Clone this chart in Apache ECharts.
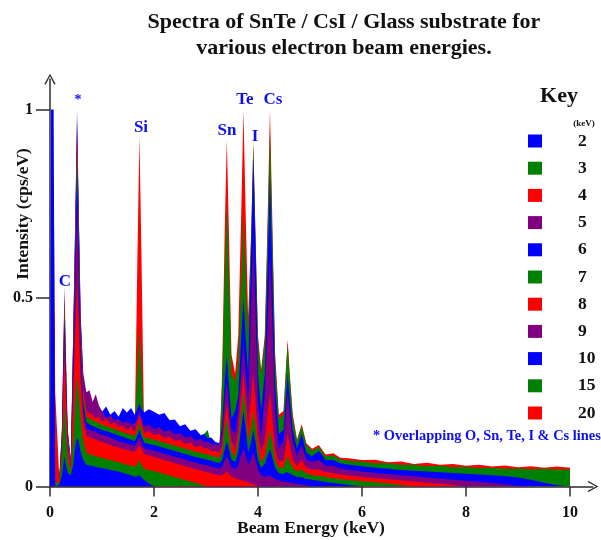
<!DOCTYPE html>
<html><head><meta charset="utf-8">
<script src="https://cdn.jsdelivr.net/npm/echarts@6/dist/echarts.min.js"></script>
<style>html,body{margin:0;padding:0;background:#fff}#c{width:601px;height:540px}</style>
</head><body><div id="c"></div>
<script>
// Energy grid (keV)
const energy = [
0, 0.02, 0.04, 0.07, 0.10, 0.18, 0.23, 0.26, 0.28, 0.30,
0.34, 0.40, 0.45, 0.49, 0.52, 0.55, 0.59, 0.64, 0.70, 0.76,
0.82, 0.88, 0.94, 1.00, 1.08, 1.16, 1.24, 1.32, 1.40, 1.48,
1.56, 1.63, 1.68, 1.72, 1.76, 1.81, 1.90, 2.00, 2.10, 2.20,
2.30, 2.40, 2.50, 2.60, 2.70, 2.80, 2.90, 2.97, 3.03, 3.10,
3.18, 3.26, 3.31, 3.36, 3.40, 3.44, 3.49, 3.56, 3.62, 3.68,
3.72, 3.76, 3.81, 3.87, 3.91, 3.95, 4.00, 4.06, 4.13, 4.19,
4.23, 4.27, 4.33, 4.40, 4.49, 4.54, 4.57, 4.61, 4.67, 4.75,
4.84, 4.93, 5.04, 5.17, 5.30, 5.45, 5.58, 5.75, 6.00, 6.25,
6.50, 6.75, 7.00, 7.25, 7.50, 7.75, 8.00, 8.25, 8.50, 8.75,
9.00, 9.25, 9.50, 9.75, 10.00];

// Intensity (cps/eV) for each beam energy
const s2 = [
0, 1.0, 1.0, 1.0, 0.0, 0.005, 0.03, 0.06, 0.08, 0.06,
0.035, 0.03, 0.06, 0.11, 0.13, 0.12, 0.09, 0.07, 0.058, 0.056,
0.055, 0.052, 0.05, 0.049, 0.047, 0.044, 0.042, 0.04, 0.036, 0.033,
0.03, 0.026, 0.027, 0.03, 0.024, 0.018, 0.008, 0, 0, 0,
0, 0, 0, 0, 0, 0, 0, 0, 0, 0,
0, 0, 0, 0, 0, 0, 0, 0, 0, 0,
0, 0, 0, 0, 0, 0, 0, 0, 0, 0,
0, 0, 0, 0, 0, 0, 0, 0, 0, 0,
0, 0, 0, 0, 0, 0, 0, 0, 0, 0,
0, 0, 0, 0, 0, 0, 0, 0, 0, 0,
0, 0, 0, 0, 0];
const s3 = [
0, 0, 0.4, 0.5, 0.01, 0.01, 0.08, 0.17, 0.22, 0.17,
0.07, 0.04, 0.13, 0.24, 0.29, 0.25, 0.18, 0.12, 0.09, 0.085,
0.083, 0.08, 0.078, 0.076, 0.073, 0.07, 0.067, 0.064, 0.061, 0.058,
0.055, 0.052, 0.06, 0.07, 0.058, 0.047, 0.044, 0.041, 0.037, 0.033,
0.029, 0.025, 0.021, 0.017, 0.013, 0.009, 0.005, 0.002, 0, 0,
0, 0, 0, 0, 0, 0, 0, 0, 0, 0,
0, 0, 0, 0, 0, 0, 0, 0, 0, 0,
0, 0, 0, 0, 0, 0, 0, 0, 0, 0,
0, 0, 0, 0, 0, 0, 0, 0, 0, 0,
0, 0, 0, 0, 0, 0, 0, 0, 0, 0,
0, 0, 0, 0, 0];
const s4 = [
0, 0, 0.45, 0.6, 0.1, 0.015, 0.1, 0.27, 0.35, 0.26,
0.1, 0.05, 0.25, 0.42, 0.55, 0.44, 0.27, 0.17, 0.135, 0.13,
0.128, 0.125, 0.12, 0.118, 0.114, 0.11, 0.106, 0.103, 0.1, 0.097,
0.094, 0.09, 0.1, 0.11, 0.1, 0.086, 0.082, 0.078, 0.074, 0.07,
0.066, 0.062, 0.058, 0.054, 0.05, 0.046, 0.042, 0.04, 0.038, 0.035,
0.032, 0.029, 0.03, 0.036, 0.04, 0.034, 0.026, 0.022, 0.019, 0.017,
0.015, 0.013, 0.011, 0.008, 0.006, 0.004, 0.002, 0, 0, 0,
0, 0, 0, 0, 0, 0, 0, 0, 0, 0,
0, 0, 0, 0, 0, 0, 0, 0, 0, 0,
0, 0, 0, 0, 0, 0, 0, 0, 0, 0,
0, 0, 0, 0, 0];
const s5 = [
0, 0, 0.5, 0.6, 0.01, 0.02, 0.12, 0.32, 0.42, 0.31,
0.12, 0.05, 0.32, 0.57, 0.75, 0.58, 0.34, 0.2, 0.155, 0.15,
0.148, 0.145, 0.14, 0.138, 0.134, 0.13, 0.125, 0.12, 0.117, 0.114,
0.11, 0.107, 0.12, 0.13, 0.118, 0.101, 0.098, 0.095, 0.091, 0.087,
0.083, 0.079, 0.075, 0.071, 0.067, 0.063, 0.06, 0.058, 0.056, 0.053,
0.05, 0.047, 0.052, 0.07, 0.08, 0.068, 0.05, 0.045, 0.055, 0.085,
0.1, 0.085, 0.055, 0.075, 0.09, 0.072, 0.045, 0.03, 0.026, 0.028,
0.03, 0.025, 0.02, 0.016, 0.013, 0.012, 0.011, 0.01, 0.009, 0.007,
0.005, 0.003, 0, 0, 0, 0, 0, 0, 0, 0,
0, 0, 0, 0, 0, 0, 0, 0, 0, 0,
0, 0, 0, 0, 0];
const s6 = [
0, 0, 0.5, 0.6, 0.012, 0.02, 0.13, 0.34, 0.45, 0.33,
0.12, 0.05, 0.36, 0.64, 0.85, 0.65, 0.38, 0.22, 0.17, 0.165,
0.16, 0.157, 0.153, 0.15, 0.147, 0.143, 0.139, 0.135, 0.131, 0.127,
0.124, 0.12, 0.135, 0.15, 0.133, 0.116, 0.113, 0.11, 0.106, 0.102,
0.098, 0.094, 0.09, 0.086, 0.082, 0.078, 0.075, 0.073, 0.071, 0.068,
0.065, 0.062, 0.07, 0.1, 0.12, 0.1, 0.07, 0.065, 0.09, 0.16,
0.2, 0.16, 0.09, 0.12, 0.15, 0.12, 0.07, 0.05, 0.06, 0.085,
0.1, 0.08, 0.05, 0.035, 0.033, 0.038, 0.04, 0.035, 0.03, 0.025,
0.025, 0.02, 0.018, 0.015, 0.012, 0.009, 0.007, 0.004, 0, 0,
0, 0, 0, 0, 0, 0, 0, 0, 0, 0,
0, 0, 0, 0, 0];
const s7 = [
0, 0, 0.5, 0.6, 0.012, 0.02, 0.14, 0.36, 0.48, 0.35,
0.13, 0.06, 0.39, 0.68, 0.9, 0.69, 0.4, 0.24, 0.185, 0.18,
0.176, 0.172, 0.168, 0.164, 0.16, 0.156, 0.152, 0.148, 0.144, 0.14,
0.137, 0.134, 0.15, 0.17, 0.148, 0.13, 0.127, 0.124, 0.12, 0.116,
0.112, 0.108, 0.104, 0.1, 0.096, 0.092, 0.089, 0.087, 0.085, 0.082,
0.079, 0.076, 0.09, 0.15, 0.18, 0.14, 0.09, 0.08, 0.12, 0.2,
0.25, 0.2, 0.12, 0.16, 0.2, 0.16, 0.1, 0.065, 0.08, 0.12,
0.15, 0.12, 0.07, 0.05, 0.05, 0.07, 0.08, 0.065, 0.05, 0.04,
0.045, 0.035, 0.03, 0.028, 0.025, 0.022, 0.02, 0.017, 0.014, 0.011,
0.008, 0.004, 0, 0, 0, 0, 0, 0, 0, 0,
0, 0, 0, 0, 0];
const s8 = [
0, 0, 0.5, 0.85, 0.25, 0.02, 0.15, 0.38, 0.5, 0.37,
0.14, 0.06, 0.41, 0.71, 0.94, 0.72, 0.42, 0.26, 0.2, 0.195,
0.19, 0.18, 0.186, 0.172, 0.18, 0.165, 0.17, 0.158, 0.162, 0.15,
0.156, 0.145, 0.17, 0.19, 0.168, 0.142, 0.147, 0.136, 0.14, 0.128,
0.132, 0.12, 0.124, 0.112, 0.116, 0.104, 0.108, 0.1, 0.102, 0.094,
0.094, 0.091, 0.11, 0.18, 0.22, 0.17, 0.12, 0.1, 0.15, 0.25,
0.3, 0.24, 0.16, 0.24, 0.3, 0.23, 0.14, 0.09, 0.12, 0.2,
0.25, 0.19, 0.1, 0.065, 0.07, 0.11, 0.14, 0.11, 0.07, 0.055,
0.07, 0.05, 0.045, 0.045, 0.038, 0.036, 0.032, 0.029, 0.025, 0.022,
0.019, 0.016, 0.013, 0.01, 0.007, 0.004, 0, 0, 0, 0,
0, 0, 0, 0, 0];
const s9 = [
0, 0, 0.5, 0.6, 0.012, 0.025, 0.16, 0.4, 0.53, 0.39,
0.15, 0.07, 0.43, 0.73, 0.97, 0.74, 0.44, 0.3, 0.25, 0.255,
0.225, 0.245, 0.215, 0.2, 0.182, 0.188, 0.175, 0.18, 0.168, 0.174,
0.165, 0.168, 0.18, 0.2, 0.178, 0.158, 0.165, 0.152, 0.158, 0.146,
0.15, 0.138, 0.142, 0.13, 0.134, 0.122, 0.126, 0.118, 0.12, 0.112,
0.112, 0.109, 0.14, 0.23, 0.28, 0.22, 0.15, 0.14, 0.2, 0.31,
0.38, 0.31, 0.22, 0.48, 0.646, 0.48, 0.22, 0.13, 0.24, 0.46,
0.62, 0.46, 0.2, 0.1, 0.12, 0.2, 0.25, 0.19, 0.12, 0.08,
0.11, 0.07, 0.065, 0.07, 0.055, 0.055, 0.048, 0.044, 0.04, 0.036,
0.033, 0.03, 0.027, 0.024, 0.021, 0.018, 0.015, 0.012, 0.009, 0.005,
0.002, 0, 0, 0, 0];
const s10 = [
0, 0, 0.45, 0.6, 0.012, 0.025, 0.14, 0.3, 0.4, 0.3,
0.15, 0.07, 0.44, 0.75, 1.0, 0.76, 0.46, 0.29, 0.235, 0.24,
0.21, 0.235, 0.205, 0.198, 0.212, 0.19, 0.2, 0.185, 0.208, 0.196,
0.208, 0.19, 0.205, 0.22, 0.205, 0.196, 0.205, 0.198, 0.19, 0.195,
0.176, 0.178, 0.16, 0.165, 0.148, 0.152, 0.136, 0.14, 0.128, 0.13,
0.118, 0.115, 0.16, 0.28, 0.35, 0.27, 0.18, 0.2, 0.24, 0.4,
0.5, 0.4, 0.3, 0.64, 0.875, 0.64, 0.3, 0.2, 0.3, 0.6,
0.826, 0.6, 0.27, 0.14, 0.15, 0.24, 0.3, 0.23, 0.15, 0.1,
0.14, 0.09, 0.08, 0.095, 0.07, 0.07, 0.062, 0.058, 0.054, 0.05,
0.047, 0.044, 0.042, 0.04, 0.038, 0.036, 0.034, 0.032, 0.03, 0.027,
0.024, 0.018, 0.01, 0.003, 0];
const s15 = [
0, 0, 0.4, 0.6, 0.01, 0.02, 0.1, 0.26, 0.35, 0.26,
0.12, 0.06, 0.35, 0.6, 0.8, 0.62, 0.38, 0.24, 0.2, 0.19,
0.18, 0.175, 0.17, 0.165, 0.16, 0.16, 0.158, 0.157, 0.156, 0.155,
0.155, 0.155, 0.3, 0.42, 0.3, 0.155, 0.154, 0.153, 0.15, 0.147,
0.143, 0.14, 0.135, 0.13, 0.126, 0.122, 0.118, 0.14, 0.15, 0.115,
0.11, 0.108, 0.27, 0.56, 0.755, 0.56, 0.3, 0.28, 0.33, 0.55,
0.73, 0.56, 0.4, 0.67, 0.906, 0.67, 0.38, 0.3, 0.38, 0.7,
0.945, 0.7, 0.33, 0.18, 0.19, 0.31, 0.38, 0.29, 0.18, 0.12,
0.16, 0.11, 0.095, 0.105, 0.08, 0.082, 0.072, 0.068, 0.066, 0.062,
0.062, 0.058, 0.058, 0.054, 0.055, 0.051, 0.052, 0.049, 0.05, 0.047,
0.048, 0.046, 0.047, 0.045, 0.045];
const s20 = [
0, 0, 0.35, 0.6, 0.01, 0.02, 0.08, 0.22, 0.3, 0.22,
0.1, 0.05, 0.3, 0.52, 0.7, 0.54, 0.34, 0.22, 0.18, 0.17,
0.165, 0.16, 0.155, 0.15, 0.148, 0.146, 0.145, 0.144, 0.143, 0.142,
0.142, 0.142, 0.6, 0.93, 0.6, 0.142, 0.141, 0.14, 0.138, 0.135,
0.132, 0.128, 0.124, 0.12, 0.117, 0.113, 0.11, 0.108, 0.106, 0.104,
0.102, 0.1, 0.3, 0.68, 0.92, 0.68, 0.35, 0.3, 0.4, 0.74,
1.0, 0.74, 0.45, 0.68, 0.915, 0.68, 0.4, 0.31, 0.4, 0.74,
1.0, 0.74, 0.35, 0.19, 0.2, 0.32, 0.39, 0.3, 0.19, 0.125,
0.165, 0.115, 0.1, 0.11, 0.085, 0.088, 0.076, 0.075, 0.07, 0.071,
0.064, 0.066, 0.06, 0.063, 0.058, 0.06, 0.055, 0.058, 0.053, 0.056,
0.051, 0.054, 0.05, 0.053, 0.05];

const beamEnergies = ['2', '3', '4', '5', '6', '7', '8', '9', '10', '15', '20'];
const seriesValues = [s2, s3, s4, s5, s6, s7, s8, s9, s10, s15, s20];
const xTicks = [0, 2, 4, 6, 8, 10];
const yTicks = [0, 0.5, 1];
const peakNames = ['*', 'Si', 'Sn', 'Te', 'I', 'Cs', 'C'];

const palette = ['#0000FF', '#008000', '#FF0000', '#800080'];
const FONT = "'Liberation Serif', 'Times New Roman', serif";
const AXIS = '#2b2b2b';

const chart = echarts.init(document.getElementById('c'), null, {renderer: 'canvas'});

// highest beam energy at the back, 2 keV in front
const series = [];
for (let k = seriesValues.length - 1; k >= 0; k--) {
  const col = palette[k % 4];
  series.push({
    name: beamEnergies[k] + ' keV',
    type: 'line',
    data: energy.map((e, i) => [e, seriesValues[k][i]]),
    symbol: 'none',
    lineStyle: {width: 0, color: col},
    itemStyle: {color: col},
    areaStyle: {color: col, opacity: 1},
    silent: true,
    z: 2
  });
}

const arrowPath = 'path://M5,0 L10,9 L9,10 L5,2.2 L1,10 L0,9 Z';

const graphics = [];
function txt(text, x, y, size, color, align, extra) {
  const o = {type: 'text', x: x, y: y, silent: true, z: 100,
    style: {text: text, font: 'bold ' + size + 'px ' + FONT, fill: color,
      textAlign: align || 'center', textVerticalAlign: 'middle'}};
  if (extra) Object.assign(o, extra);
  graphics.push(o);
}
txt('Spectra of SnTe / CsI / Glass substrate for', 344, 22, 22, '#111');
txt('various electron beam energies.', 344, 48, 22, '#111');
txt('Intensity (cps/eV)', 23, 214, 17.5, '#111', 'center', {rotation: Math.PI / 2});
txt('Beam Energy (keV)', 311, 528, 17.5, '#111');
const peakPos = [[78, 100, 14], [141, 128, 17], [227, 131, 17], [245, 100, 17], [255, 137, 17], [273, 100, 17], [65, 282, 17]];
peakNames.forEach((n, i) => txt(n, peakPos[i][0], peakPos[i][1], peakPos[i][2], '#1010ee'));
txt('Key', 559, 96, 22, '#111');
txt('(keV)', 584, 124, 9, '#111');
beamEnergies.forEach((b, k) => {
  const cy = 141 + k * 27.2;
  graphics.push({type: 'rect', silent: true, z: 100, shape: {x: 528, y: cy - 6.5, width: 14, height: 13},
    style: {fill: palette[k % 4]}});
  txt(b, 578, cy, 17.5, '#111', 'left');
});
txt('* Overlapping O, Sn, Te, I & Cs lines', 373, 436, 14.4, '#1010ee', 'left');

const xMax = 10.44, yMax = 1.08;
chart.setOption({
  animation: false,
  backgroundColor: '#fff',
  grid: {left: 50, right: 601 - 50 - xMax * 52, top: 486.5 - yMax * 377, bottom: 53.5, containLabel: false},
  xAxis: {
    type: 'value', min: 0, max: xMax,
    axisLine: {lineStyle: {color: AXIS, width: 1.5}, symbol: ['none', arrowPath], symbolSize: [11, 11]},
    axisTick: {show: true, length: 10, lineStyle: {color: AXIS, width: 1.5}, customValues: xTicks},
    axisLabel: {customValues: xTicks, margin: 18, color: '#111', fontFamily: FONT, fontWeight: 'bold', fontSize: 16},
    splitLine: {show: false}
  },
  yAxis: {
    type: 'value', min: 0, max: yMax,
    axisLine: {show: true, lineStyle: {color: AXIS, width: 1.5}, symbol: ['none', arrowPath], symbolSize: [11, 11]},
    axisTick: {show: true, length: 14, lineStyle: {color: AXIS, width: 1.5}, customValues: yTicks},
    axisLabel: {customValues: yTicks, margin: 17, color: '#111', fontFamily: FONT, fontWeight: 'bold', fontSize: 16},
    splitLine: {show: false}
  },
  series: series,
  graphic: graphics
});
</script>
</body></html>
